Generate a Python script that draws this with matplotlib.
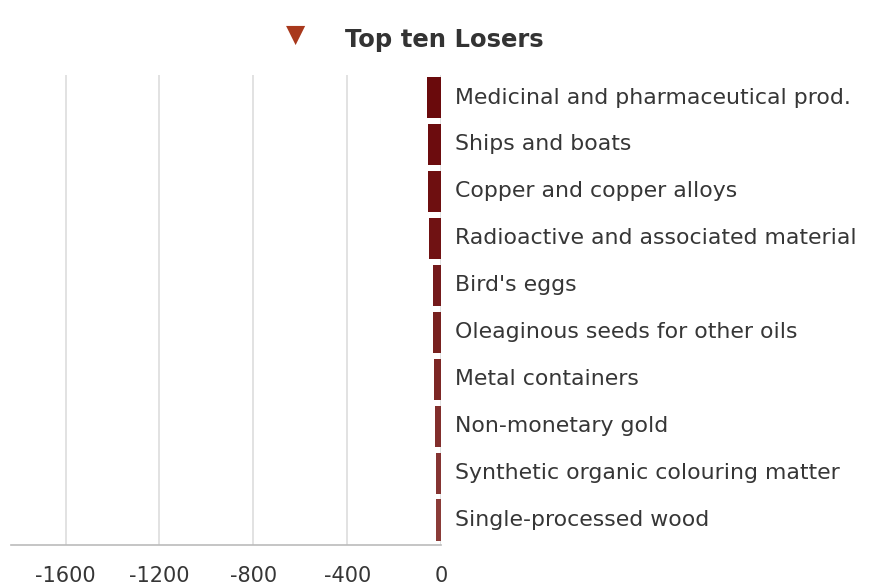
import numpy as np
import matplotlib
matplotlib.use("Agg")
import matplotlib.pyplot as plt

# wide sans to match the stretched look of the original
plt.rcParams["font.family"] = ["DejaVu Sans"]

# top ten losers (change in value)
categories = [
    "Medicinal and pharmaceutical prod.",
    "Ships and boats",
    "Copper and copper alloys",
    "Radioactive and associated material",
    "Bird's eggs",
    "Oleaginous seeds for other oils",
    "Metal containers",
    "Non-monetary gold",
    "Synthetic organic colouring matter",
    "Single-processed wood",
]
values = [-58, -56, -54, -50, -36, -34, -30, -24, -22, -20]
bar_colors = ["#6a0a0c", "#6c0c0e", "#6e0f10", "#701213", "#741a1b",
              "#78211f", "#7c2725", "#812e2c", "#853432", "#8a3b38"]
xticks = [-1600, -1200, -800, -400, 0]

fig = plt.figure(figsize=(8.88, 5.88), dpi=100)
ax = fig.add_axes([11 / 888, 43 / 588, 430 / 888, 470 / 588])

y = np.arange(len(categories))
ax.barh(y, values, height=0.88, color=bar_colors, zorder=3)

for yi, lab in zip(y, categories):
    ax.annotate(lab, xy=(1.0, yi), xycoords=ax.get_yaxis_transform(),
                xytext=(10, 0), textcoords="offset points",
                va="center", ha="left", fontsize=15.8, color="#363636",
                annotation_clip=False)

ax.set_xlim(-1833, 0)
ax.set_ylim(9.53, -0.48)
ax.set_xticks(xticks)
ax.set_xticklabels([str(t) for t in xticks], fontsize=15, color="#363636")
ax.set_yticks([])
ax.tick_params(axis="x", length=0, pad=15)
ax.grid(axis="x", color="#dddddd", lw=1.2, zorder=0)
for s in ["top", "right", "left"]:
    ax.spines[s].set_visible(False)
ax.spines["bottom"].set_color("#bbbbbb")
ax.spines["bottom"].set_linewidth(1.2)

# title with marker
fig.text(296 / 888, 1 - 35 / 588, "\u25bc", fontsize=18, color="#a8381c",
         ha="center", va="center")
fig.text(444 / 888, 1 - 40 / 588, "Top ten Losers", fontsize=17.5,
         fontweight="bold", color="#333333", ha="center", va="center")

fig.savefig("out.png", dpi=100)
